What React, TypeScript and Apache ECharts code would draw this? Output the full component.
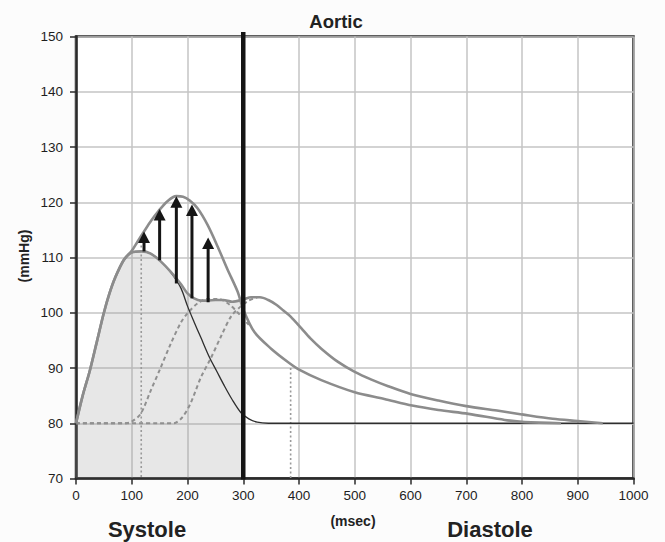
import React, { useEffect, useRef } from "react";
import * as echarts from "echarts";

// ---- tick values ----
const xTicks = [0, 100, 200, 300, 400, 500, 600, 700, 800, 900, 1000];
const yTicks = [70, 80, 90, 100, 110, 120, 130, 140, 150];

// ---- curves: [msec, mmHg] ----
const incidentWave: [number, number][] = [
  [0, 80], [12, 85], [25, 89.6], [38, 95], [50, 100], [60, 103.5], [70, 106.3], [86, 109.6],
  [100, 110.9], [118, 111.1], [134, 110.7], [152, 109.3], [170, 107.3], [188, 104.5],
  [200, 101.2], [212, 98.3], [224, 95.5], [240, 91.8], [252, 89.5], [266, 86.8], [280, 84.3],
  [296, 81.9], [310, 80.8], [325, 80.2], [345, 80], [400, 80], [1000, 80],
];

const youngPressure: [number, number][] = [
  [0, 80], [12, 85], [25, 89.6], [38, 95], [50, 100], [60, 103.5], [70, 106.3], [86, 109.6],
  [100, 110.9], [118, 111.1], [134, 110.7], [152, 109.3], [170, 107.4], [188, 105.2],
  [200, 103.5], [212, 102.6], [224, 102.2], [236, 102.2], [250, 102.3], [264, 102.3],
  [280, 102], [300, 102.4], [314, 102.8], [330, 102.8], [345, 102.3], [360, 101.4],
  [372, 100.4], [385, 99.3], [404, 97.2], [420, 95.4], [440, 93.5], [470, 91.1], [500, 89.3],
  [530, 87.9], [560, 86.7], [600, 85.3], [650, 84.1], [700, 83.1], [755, 82.3], [800, 81.6],
  [855, 80.8], [900, 80.4], [945, 80],
];

const oldPressure: [number, number][] = [
  [0, 80], [12, 85], [25, 89.6], [38, 95], [50, 100], [60, 103.5], [70, 106.3], [86, 109.6],
  [100, 111.2], [110, 112.8], [122, 114.7], [135, 116.7], [148, 118.4], [164, 120.2],
  [180, 121.1], [192, 121], [204, 120.3], [218, 118.9], [236, 115.9], [254, 112],
  [272, 107.8], [290, 103.8], [300, 100.6], [320, 96.5], [350, 93.5], [380, 91.1],
  [402, 89.6], [440, 87.8], [500, 85.6], [553, 84.4], [603, 83.2], [650, 82.4], [704, 81.7],
  [769, 80.6], [805, 80.2], [870, 80],
];

const earlyReflected: [number, number][] = [
  [0, 80], [90, 80], [100, 80.3], [116, 81.7], [134, 85.9], [152, 90.1], [170, 94.4],
  [188, 98.2], [200, 99.9], [218, 101.7], [236, 102.5], [255, 102.5], [275, 101.5],
  [295, 99.5], [310, 97.8],
];

const lateReflected: [number, number][] = [
  [0, 80], [175, 80], [190, 81], [205, 83.5], [224, 88.3], [242, 91.8], [260, 95.7],
  [278, 99.3], [296, 101.2], [310, 102.2], [325, 102.8],
];

// ---- augmentation arrows ----
const arrowX = [122, 150, 180, 208, 237];
const arrowBase = [111.1, 109.5, 105.3, 102.6, 101.9];
const arrowTip = [114.7, 118.8, 121.1, 119.6, 113.6];

// ---- dotted drop lines ----
const dropX = [117, 385];
const dropTop = [113, 90];

const systoleEnd = 300;

const FONT = "'Liberation Sans', Arial, Helvetica, sans-serif";

export default function App() {
  const ref = useRef<HTMLDivElement>(null);

  useEffect(() => {
    if (!ref.current) return;
    const chart = echarts.init(ref.current, undefined, { renderer: "svg" });
    const yMin = yTicks[0];
    const yMax = yTicks[yTicks.length - 1];
    const shade = youngPressure.filter((p) => p[0] <= systoleEnd);

    const gray = "#8c8c8c";
    const lineCommon = {
      type: "line",
      showSymbol: false,
      smooth: 0.3,
      silent: true,
    };

    const text = (t: string, x: number, y: number, size: number, rotation = 0) => ({
      type: "text",
      x,
      y,
      rotation,
      style: {
        text: t,
        font: `bold ${size}px ${FONT}`,
        fill: "#222",
        textAlign: "center",
        textVerticalAlign: "middle",
      },
    });

    const option: any = {
      animation: false,
      backgroundColor: "#fcfcfc",
      grid: {
        left: 76,
        right: 31.5,
        top: 36.5,
        bottom: 63.5,
        show: true,
        backgroundColor: "#ffffff",
        borderColor: "#2a2a2a",
        borderWidth: 2.5,
        containLabel: false,
      },
      xAxis: {
        type: "value",
        min: xTicks[0],
        max: xTicks[xTicks.length - 1],
        interval: xTicks[1] - xTicks[0],
        axisLine: { show: true, lineStyle: { color: "#2a2a2a", width: 2.5 } },
        axisTick: { show: true, length: 6, lineStyle: { color: "#2a2a2a", width: 1.5 } },
        axisLabel: {
          color: "#1e1e1e",
          fontSize: 13.5,
          margin: 10,
          fontFamily: FONT,
          formatter: (v: number) => String(v),
        },
        splitLine: { show: true, lineStyle: { color: "#c4c4c4", width: 1.5 } },
      },
      yAxis: {
        type: "value",
        min: yMin,
        max: yMax,
        interval: yTicks[1] - yTicks[0],
        axisLine: { show: true, lineStyle: { color: "#2a2a2a", width: 2.5 } },
        axisTick: { show: true, length: 6, lineStyle: { color: "#2a2a2a", width: 1.5 } },
        axisLabel: {
          color: "#1e1e1e",
          fontSize: 13.5,
          margin: 13,
          fontFamily: FONT,
          formatter: (v: number) => String(v),
        },
        splitLine: { show: true, lineStyle: { color: "#c4c4c4", width: 1.5 } },
      },
      graphic: [
        text("Aortic", 336, 21, 18.5),
        text("(mmHg)", 24, 256, 14, Math.PI / 2),
        text("(msec)", 353, 521, 14),
        text("Systole", 147, 529.5, 22),
        text("Diastole", 490, 529.5, 22),
      ],
      series: [
        {
          ...lineCommon,
          name: "shade",
          data: shade,
          lineStyle: { width: 0, opacity: 0 },
          areaStyle: { color: "rgba(150,150,150,0.33)", origin: "start" },
          z: 1,
        },
        {
          ...lineCommon,
          name: "earlyReflected",
          data: earlyReflected,
          lineStyle: { color: "#909090", width: 2, type: [4, 3] },
          z: 2,
        },
        {
          ...lineCommon,
          name: "lateReflected",
          data: lateReflected,
          lineStyle: { color: "#909090", width: 2, type: [4, 3] },
          z: 2,
        },
        {
          type: "custom",
          name: "drops",
          silent: true,
          data: dropX.map((x, i) => [x, dropTop[i]]),
          renderItem: (params: any, api: any) => {
            const a = api.coord([api.value(0), api.value(1)]);
            const b = api.coord([api.value(0), yMin]);
            return {
              type: "line",
              shape: { x1: a[0], y1: a[1], x2: b[0], y2: b[1] },
              style: { stroke: "#9a9a9a", lineWidth: 1.6, lineDash: [2, 2.5] },
            };
          },
          z: 3,
        },
        {
          ...lineCommon,
          name: "incident",
          data: incidentWave,
          lineStyle: { color: "#2e2e2e", width: 1.3 },
          z: 4,
        },
        {
          ...lineCommon,
          name: "young",
          data: youngPressure,
          lineStyle: { color: gray, width: 2.6 },
          z: 5,
        },
        {
          ...lineCommon,
          name: "old",
          data: oldPressure,
          lineStyle: { color: gray, width: 2.6 },
          z: 5,
        },
        {
          type: "custom",
          name: "arrows",
          silent: true,
          data: arrowX.map((x, i) => [x, arrowBase[i], arrowTip[i]]),
          renderItem: (params: any, api: any) => {
            const base = api.coord([api.value(0), api.value(1)]);
            const tip = api.coord([api.value(0), api.value(2)]);
            const hh = 11.5;
            const hw = 6;
            return {
              type: "group",
              children: [
                {
                  type: "line",
                  shape: { x1: base[0], y1: base[1], x2: tip[0], y2: tip[1] + hh - 1 },
                  style: { stroke: "#151515", lineWidth: 3 },
                },
                {
                  type: "polygon",
                  shape: {
                    points: [
                      [tip[0], tip[1]],
                      [tip[0] - hw, tip[1] + hh],
                      [tip[0] + hw, tip[1] + hh],
                    ],
                  },
                  style: { fill: "#151515" },
                },
              ],
            };
          },
          z: 6,
        },
        {
          type: "custom",
          name: "phaseLine",
          silent: true,
          clip: false,
          data: [[systoleEnd]],
          renderItem: (params: any, api: any) => {
            const a = api.coord([api.value(0), yMax]);
            const b = api.coord([api.value(0), yMin]);
            return {
              type: "line",
              shape: { x1: a[0], y1: a[1] - 4.5, x2: b[0], y2: b[1] + 1 },
              style: { stroke: "#151515", lineWidth: 4.5 },
            };
          },
          z: 7,
        },
      ],
    };
    chart.setOption(option);
    return () => chart.dispose();
  }, []);

  return (
    <div
      ref={ref}
      style={{ position: "fixed", left: 0, top: 0, width: 665, height: 542 }}
    />
  );
}
